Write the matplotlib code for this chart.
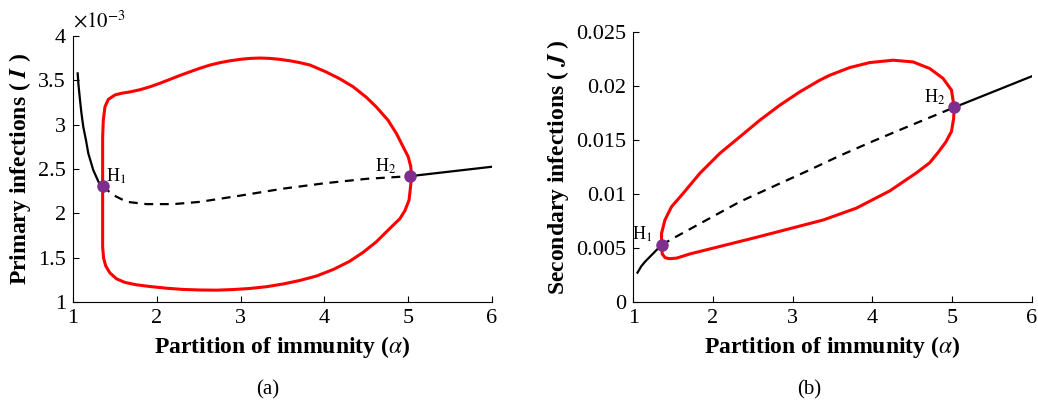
import numpy as np
import matplotlib.pyplot as plt

plt.rcParams['font.family'] = ['Liberation Serif', 'DejaVu Serif']
plt.rcParams['mathtext.fontset'] = 'stix'

# ---------------------
# Panel (a): primary infections, values in units of 1e-3
# ---------------------
a_eq_s1 = [1.056, 1.066, 1.084, 1.101, 1.123, 1.155, 1.183, 1.242, 1.322, 1.354]
I_eq_s1 = [3.579, 3.447, 3.278, 3.131, 2.977, 2.827, 2.677, 2.489, 2.320, 2.308]
a_eq_u = [1.354, 1.481, 1.641, 1.879, 2.197, 2.51, 2.99, 3.51, 4.0, 4.50, 5.02]
I_eq_u = [2.308, 2.207, 2.131, 2.105, 2.105, 2.13, 2.20, 2.28, 2.34, 2.39, 2.42]
a_eq_s2 = [5.02, 5.996]
I_eq_s2 = [2.42, 2.526]

a_max = [1.354, 1.354, 1.354, 1.362, 1.382, 1.422, 1.501, 1.58, 1.680, 1.80,
         1.919, 2.038, 2.158, 2.277, 2.396, 2.515, 2.635, 2.754, 2.874, 2.993,
         3.112, 3.23, 3.351, 3.47, 3.589, 3.708, 3.828, 4.01, 4.18, 4.34, 4.50,
         4.62, 4.76, 4.86, 4.94, 5.0, 5.03, 5.04]
I_max = [2.308, 2.601, 2.864, 3.053, 3.203, 3.286, 3.336, 3.355, 3.370, 3.395,
         3.428, 3.468, 3.512, 3.556, 3.597, 3.637, 3.673, 3.70, 3.721, 3.737,
         3.748, 3.752, 3.748, 3.737, 3.721, 3.70, 3.673, 3.60, 3.52, 3.43, 3.31,
         3.20, 3.05, 2.90, 2.75, 2.64, 2.53, 2.42]
a_min = [5.04, 5.03, 5.01, 4.96, 4.90, 4.78, 4.62, 4.46, 4.30, 4.11, 3.908,
         3.71, 3.51, 3.31, 3.112, 2.915, 2.715, 2.516, 2.316, 2.117, 1.919,
         1.76, 1.62, 1.521, 1.44, 1.39, 1.365, 1.354, 1.354, 1.354, 1.354]
I_min = [2.42, 2.32, 2.15, 2.03, 1.94, 1.83, 1.68, 1.56, 1.46, 1.37, 1.295,
         1.245, 1.205, 1.174, 1.154, 1.142, 1.135, 1.137, 1.143, 1.157, 1.176,
         1.195, 1.222, 1.262, 1.33, 1.41, 1.50, 1.624, 1.775, 2.038, 2.308]
hopf_a = [1.354, 5.02]
hopf_I = [2.308, 2.418]

# ---------------------
# Panel (b): secondary infections
# ---------------------
b_eq_s1 = [1.054, 1.10, 1.15, 1.254, 1.356]
J_eq_s1 = [0.00273, 0.0033, 0.00375, 0.00453, 0.00529]
b_eq_u = [1.356, 1.502, 1.92, 2.338, 2.756, 3.174, 3.592, 4.01, 4.43, 5.026]
J_eq_u = [0.00529, 0.00591, 0.0076, 0.00929, 0.0107, 0.0121, 0.01355,
          0.0149, 0.0162, 0.01802]
b_eq_s2 = [5.026, 6.0]
J_eq_s2 = [0.01802, 0.0209]

b_max = [1.356, 1.356, 1.398, 1.481, 1.627, 1.836, 2.087, 2.338, 2.589, 2.84,
         3.09, 3.34, 3.467, 3.717, 3.967, 4.26, 4.511, 4.72, 4.888, 4.993, 5.026]
J_max = [0.00529, 0.00637, 0.0076, 0.00883, 0.01007, 0.01192, 0.01377, 0.0153,
         0.01684, 0.01823, 0.01946, 0.02054, 0.0210, 0.02171, 0.02217, 0.02239,
         0.02223, 0.02162, 0.0207, 0.01962, 0.01802]
b_min = [5.026, 5.02, 4.993, 4.92, 4.83, 4.72, 4.55, 4.22, 3.80, 3.383,
         2.965, 2.547, 2.129, 1.711, 1.544, 1.45, 1.40, 1.365, 1.356]
J_min = [0.01802, 0.0170, 0.0158, 0.0148, 0.0139, 0.0129, 0.01195, 0.0103,
         0.0087, 0.0076, 0.0068, 0.0060, 0.00523, 0.00446, 0.00407, 0.00402,
         0.00412, 0.00445, 0.00529]
hopf_b = [1.356, 5.026]
hopf_J = [0.00529, 0.01802]

purple = '#7E2F8E'
fig = plt.figure(figsize=(10.38, 4.05), dpi=100)
ax1 = fig.add_axes([0.0703, 0.254, 0.4037, 0.657])
ax2 = fig.add_axes([0.610, 0.254, 0.384, 0.667])

# left
ax1.plot(a_max, I_max, color='red', lw=2.2)
ax1.plot(a_min, I_min, color='red', lw=2.2)
ax1.plot(a_eq_s1, I_eq_s1, 'k-', lw=1.6)
ax1.plot(a_eq_u, I_eq_u, 'k--', lw=1.6, dashes=(4, 3))
ax1.plot(a_eq_s2, I_eq_s2, 'k-', lw=1.6)
ax1.plot(hopf_a, hopf_I, 'o', color=purple, ms=8)
ax1.text(1.40, 2.36, r'H$_1$', fontsize=13)
ax1.text(4.60, 2.47, r'H$_2$', fontsize=13)
ax1.set_xlim(1, 6)
ax1.set_ylim(1, 4)
ax1.set_xticks([1, 2, 3, 4, 5, 6])
ax1.set_yticks([1, 1.5, 2, 2.5, 3, 3.5, 4])
ax1.set_yticklabels(['%g' % v for v in [1, 1.5, 2, 2.5, 3, 3.5, 4]])
ax1.text(0.0, 1.015, r'$\times10^{-3}$', transform=ax1.transAxes, fontsize=15,
         va='bottom', ha='left')
ax1.set_xlabel(r'Partition of immunity ($\alpha$)', fontsize=17, fontweight='bold')
ax1.set_ylabel(r'Primary infections ( $\mathbfit{I}$ )', fontsize=17, fontweight='bold')

# right
ax2.plot(b_max, J_max, color='red', lw=2.2)
ax2.plot(b_min, J_min, color='red', lw=2.2)
ax2.plot(b_eq_s1, J_eq_s1, 'k-', lw=1.6)
ax2.plot(b_eq_u, J_eq_u, 'k--', lw=1.6, dashes=(4, 3))
ax2.plot(b_eq_s2, J_eq_s2, 'k-', lw=1.6)
ax2.plot(hopf_b, hopf_J, 'o', color=purple, ms=8)
ax2.text(0.99, 0.0058, r'H$_1$', fontsize=13)
ax2.text(4.65, 0.0185, r'H$_2$', fontsize=13)
ax2.set_xlim(1, 6)
ax2.set_ylim(0, 0.025)
ax2.set_xticks([1, 2, 3, 4, 5, 6])
yt = [0, 0.005, 0.01, 0.015, 0.02, 0.025]
ax2.set_yticks(yt)
ax2.set_yticklabels(['%g' % v for v in yt])
ax2.set_xlabel(r'Partition of immunity ($\alpha$)', fontsize=17, fontweight='bold')
ax2.set_ylabel(r'Secondary infections ( $\mathbfit{J}$ )', fontsize=17, fontweight='bold')

fig.text(0.258, 0.025, '(a)', ha='center', fontsize=15)
fig.text(0.780, 0.025, '(b)', ha='center', fontsize=15)

for ax in (ax1, ax2):
    ax.spines['top'].set_visible(False)
    ax.spines['right'].set_visible(False)
    ax.tick_params(direction='in', labelsize=16, length=4, pad=5)

fig.savefig('out.png', dpi=100)
